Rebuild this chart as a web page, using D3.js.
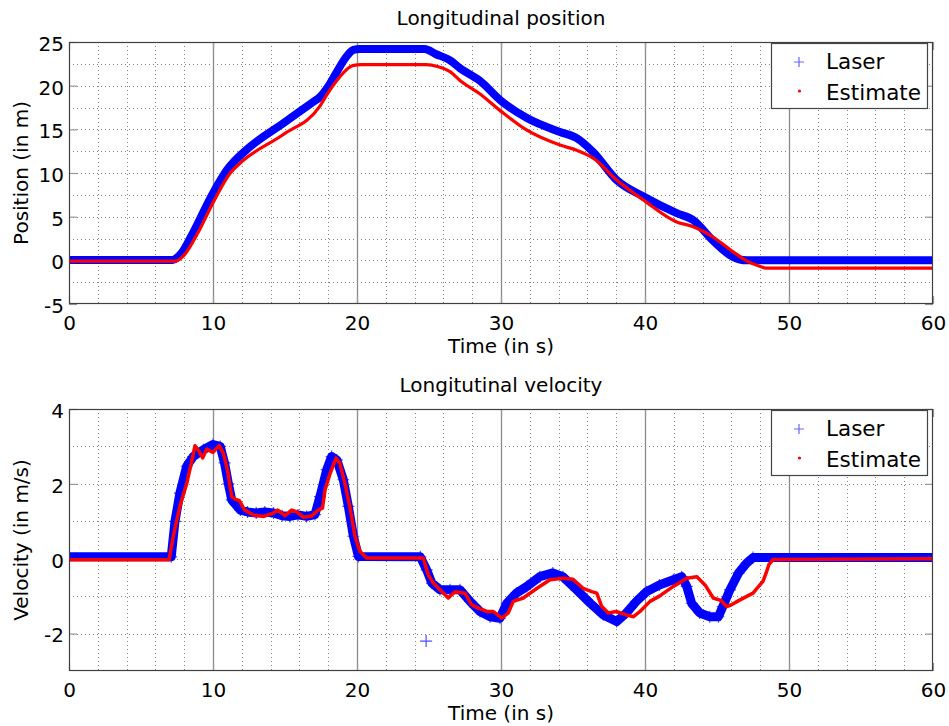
<!DOCTYPE html>
<html><head><meta charset="utf-8">
<script src="https://cdn.jsdelivr.net/npm/d3@7"></script>
<style>
body{margin:0;background:#fff}
text{font-family:"DejaVu Sans",sans-serif;fill:#000}
</style>
</head><body>
<svg id="c" width="949" height="726"></svg>
<script>
// ---------- data ----------
const xTicks=[0,10,20,30,40,50,60];
const xMajorGrid=[10,20,30,40,50];
const xMinorGrid=[2,4,6,8,12,14,16,18,22,24,26,28,32,34,36,38,42,44,46,48,52,54,56,58];
const posTicks=[-5,0,5,10,15,20,25];
const posGrid=[-2.5,0,2.5,5,7.5,10,12.5,15,17.5,20,22.5];
const velTicks=[-2,0,2,4];
const velGrid=[-2,-1,0,1,2,3];

const posLaserT=[0,7.2,7.5,7.8,8.5,10.0,10.95,12.57,14.88,17.0,17.43,18.0,18.5,19.3,19.75,20.2,24.7,25.5,26.46,27.15,28.5,30.05,31.8,34.1,35.26,36.4,38.03,39.9,42.2,43.36,44.7,46.1,47.06,60];
const posLaserV=[0.05,0.05,0.3,0.8,2.8,7.7,10.3,13.0,15.7,18.2,18.7,19.9,21.3,23.4,24.1,24.2,24.2,23.6,22.9,22.0,20.6,18.2,16.3,14.7,14.0,12.4,9.2,7.3,5.4,4.6,2.3,0.4,0.0,0.0];

const posEstT=[0,7.4,8.0,9.0,10.0,11.2,12.0,14.88,17.4,18.0,18.8,19.7,20.3,24.8,25.6,26.46,27.15,28.5,30.05,31.8,34.1,35.26,36.4,38.03,39.9,42.2,43.36,44.7,46.1,47.0,48.0,48.4,60];
const posEstV=[-0.1,-0.1,0.6,3.3,6.6,10.0,11.3,14.4,17.6,19.2,21.0,22.3,22.4,22.4,22.2,21.6,20.6,19.1,17.0,14.9,13.2,12.6,11.7,9.2,6.9,4.4,3.85,2.7,1.0,0.0,-0.7,-0.9,-0.9];

const velLaserT=[0,7.1,7.36,7.7,8.17,8.63,9.33,10.0,10.5,10.8,11.07,11.3,11.9,12.4,13.0,13.6,14.2,14.8,15.35,15.9,16.5,17.08,17.43,17.9,18.24,18.6,19.05,19.4,19.75,20.1,24.4,24.84,25.2,25.76,26.46,27.15,27.85,28.54,29.24,29.93,30.4,31.07,31.8,32.7,33.6,34.3,35.25,36.2,37.1,38.03,38.7,39.4,40.1,41.0,41.97,42.55,42.9,43.24,43.8,44.5,45.1,45.4,45.9,46.5,47.06,47.5,60];
const velLaserV=[0.05,0.05,1.0,1.75,2.47,2.73,2.91,3.05,3.0,2.56,2.0,1.57,1.3,1.25,1.22,1.25,1.22,1.15,1.13,1.17,1.13,1.18,1.66,2.38,2.73,2.64,2.11,1.4,0.6,0.06,0.05,-0.3,-0.65,-0.83,-0.83,-0.83,-1.14,-1.41,-1.55,-1.59,-1.19,-0.92,-0.74,-0.48,-0.38,-0.48,-0.83,-1.19,-1.5,-1.68,-1.45,-1.14,-0.88,-0.7,-0.56,-0.48,-0.74,-1.19,-1.45,-1.55,-1.55,-1.28,-0.83,-0.38,-0.12,0.03,0.03];
const velOutlierT=[24.8];
const velOutlierV=[-2.2];

const velEstT=[0,6.95,7.24,7.7,8.17,8.5,8.75,8.98,9.28,9.56,10.0,10.42,10.72,11.0,11.3,11.53,11.83,12.2,12.8,13.5,14.19,14.5,15.0,15.46,15.8,16.27,16.85,17.3,17.6,17.78,18.1,18.54,18.8,19.17,19.5,19.86,20.2,20.67,24.6,24.95,25.3,25.76,26.34,26.8,27.5,27.96,28.42,29.0,29.47,30.05,30.5,30.85,31.55,32.5,33.4,34.3,35.0,35.7,36.3,36.65,37.0,37.45,38.0,38.7,39.2,39.65,40.35,41.0,41.97,42.9,43.6,44.17,44.74,45.3,45.67,46.0,46.6,47.5,48.2,48.45,48.6,48.9,60];
const velEstV=[-0.03,-0.03,0.6,1.4,2.0,2.56,3.02,2.9,2.69,2.93,2.84,3.02,2.82,2.38,1.66,1.59,1.55,1.3,1.17,1.13,1.22,1.3,1.15,1.3,1.26,1.11,1.14,1.3,1.35,1.84,2.24,2.69,2.56,2.0,1.4,0.6,0.2,0.02,0.02,-0.43,-0.65,-0.83,-1.05,-0.88,-0.92,-1.23,-1.32,-1.41,-1.41,-1.59,-1.45,-1.14,-1.05,-0.79,-0.56,-0.52,-0.55,-0.79,-0.88,-0.92,-1.28,-1.45,-1.41,-1.5,-1.55,-1.41,-1.14,-1.0,-0.74,-0.52,-0.48,-0.7,-1.05,-1.12,-1.28,-1.23,-1.1,-0.92,-0.6,-0.34,-0.16,-0.02,0.0];

const legendLabels=["Laser","Estimate"];

// ---------- drawing ----------
const svg=d3.select("#c");
const X0=69,X1=933;
const x=d3.scaleLinear().domain([0,60]).range([X0,X1]);
const zip=(a,b)=>a.map((t,i)=>[t,b[i]]);
const fmt=d=>String(d);

function panel(o){
  const y=d3.scaleLinear().domain(o.dom).range([o.y1,o.y0]);
  const g=svg.append("g");
  const cid="clip"+o.id;
  svg.append("clipPath").attr("id",cid).append("rect")
    .attr("x",X0).attr("y",o.y0).attr("width",X1-X0).attr("height",o.y1-o.y0);
  // grid
  g.selectAll(".hg").data(o.grid).join("line")
    .attr("x1",X0).attr("x2",X1).attr("y1",d=>Math.round(y(d))+0.5).attr("y2",d=>Math.round(y(d))+0.5)
    .attr("stroke","#808080").attr("stroke-width",1).attr("stroke-dasharray","1,3");
  g.selectAll(".vg").data(xMinorGrid).join("line")
    .attr("x1",d=>Math.round(x(d))+0.5).attr("x2",d=>Math.round(x(d))+0.5).attr("y1",o.y0).attr("y2",o.y1)
    .attr("stroke","#808080").attr("stroke-width",1).attr("stroke-dasharray","1,3");
  g.selectAll(".vm").data(xMajorGrid).join("line")
    .attr("x1",d=>Math.round(x(d))+0.5).attr("x2",d=>Math.round(x(d))+0.5).attr("y1",o.y0).attr("y2",o.y1)
    .attr("stroke","#8a8a8a").attr("stroke-width",1.3);
  // axes ticks (inward)
  const ax=(gen,tx,ty)=>{const a=svg.append("g").attr("transform",`translate(${tx},${ty})`).call(gen);
    a.select(".domain").remove(); a.selectAll(".tick line").attr("stroke","#999").attr("stroke-width",1.2); return a;};
  const yl=ax(d3.axisLeft(y).tickValues(o.ticks).tickSize(-8).tickPadding(5).tickFormat(fmt),X0,0);
  yl.selectAll("text").attr("font-size",20).attr("font-family","DejaVu Sans").attr("dy","0.42em").attr("fill","#000");
  ax(d3.axisRight(y).tickValues(o.ticks).tickSize(-8).tickFormat(""),X1,0);
  const xb=ax(d3.axisBottom(x).tickValues(xTicks).tickSize(-8).tickPadding(12).tickFormat(fmt),0,o.y1);
  xb.selectAll("text").attr("font-size",20).attr("font-family","DejaVu Sans").attr("fill","#000");
  ax(d3.axisTop(x).tickValues(xTicks).tickSize(-8).tickFormat(""),0,o.y0);
  // data
  const line=d3.line().x(d=>x(d[0])).y(d=>y(d[1])).curve(o.curve);
  const dg=svg.append("g").attr("clip-path",`url(#${cid})`);
  const lz=zip(o.lt,o.lv);
  if(o.markers){
    dg.selectAll(".pm").data(lz.concat(zip(o.ot,o.ov))).join("path")
      .attr("transform",d=>`translate(${x(d[0])},${y(d[1])})`)
      .attr("d","M-6,0H6M0,-6V6").attr("stroke","#4d4dff").attr("stroke-width",1.2).attr("fill","none");
  }
  dg.append("path").attr("d",line(lz)).attr("fill","none").attr("stroke","#0000ff")
    .attr("stroke-width",o.bw).attr("stroke-linejoin","round");
  dg.append("path").attr("d",line(zip(o.et,o.ev))).attr("fill","none").attr("stroke","#ff0000")
    .attr("stroke-width",o.rw).attr("stroke-linejoin","round");
  // frame
  svg.append("rect").attr("x",X0+0.5).attr("y",o.y0+0.5).attr("width",X1-X0-1).attr("height",o.y1-o.y0-1)
    .attr("fill","none").attr("stroke","#404040").attr("stroke-width",1.2);
  // labels
  svg.append("text").attr("x",(X0+X1)/2).attr("y",o.titleY).attr("text-anchor","middle").attr("font-size",20).text(o.title);
  svg.append("text").attr("x",(X0+X1)/2).attr("y",o.y1+49).attr("text-anchor","middle").attr("font-size",20).text("Time (in s)");
  svg.append("text").attr("transform",`translate(28,${(o.y0+o.y1)/2}) rotate(-90)`).attr("text-anchor","middle").attr("font-size",20).text(o.ylabel);
  // legend
  const lg=svg.append("g").attr("transform",`translate(771,${o.y0+1})`);
  lg.append("rect").attr("x",0.5).attr("y",0.5).attr("width",156).attr("height",65).attr("fill","#fff").attr("stroke","#444").attr("stroke-width",1.2);
  lg.append("path").attr("d","M23,19H33M28,14V24").attr("stroke","#6666ff").attr("stroke-width",1.2);
  lg.append("circle").attr("cx",28.5).attr("cy",48).attr("r",1.6).attr("fill","#ff0000");
  lg.selectAll(".lt").data(legendLabels).join("text").attr("x",55).attr("y",(d,i)=>26+i*31).attr("font-size",21.5).text(d=>d);
}

panel({id:1,y0:42,y1:304,dom:[-5,25],ticks:posTicks,grid:posGrid,title:"Longitudinal position",titleY:25,
  ylabel:"Position (in m)",lt:posLaserT,lv:posLaserV,ot:[],ov:[],et:posEstT,ev:posEstV,bw:8,rw:3.2,markers:false,curve:d3.curveMonotoneX});
panel({id:2,y0:409,y1:671,dom:[-3,4],ticks:velTicks,grid:velGrid,title:"Longitutinal velocity",titleY:392,
  ylabel:"Velocity (in m/s)",lt:velLaserT,lv:velLaserV,ot:velOutlierT,ov:velOutlierV,et:velEstT,ev:velEstV,bw:9,rw:3.5,markers:true,curve:d3.curveLinear});
</script>
</body></html>
